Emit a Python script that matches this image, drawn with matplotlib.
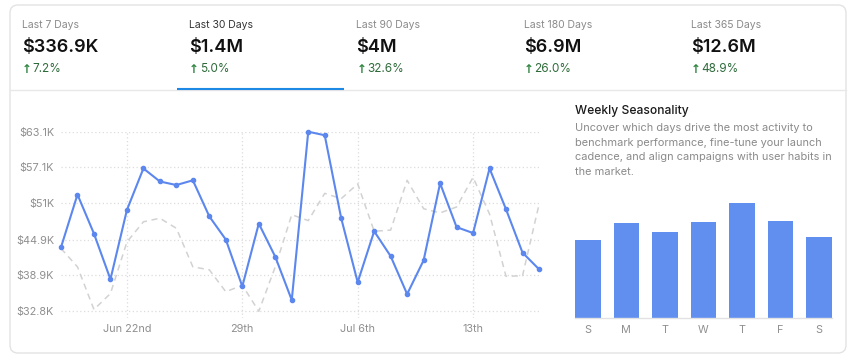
import matplotlib
matplotlib.use("Agg")
import matplotlib.pyplot as plt
from matplotlib.patches import FancyBboxPatch
import numpy as np

plt.rcParams['font.family'] = ['Inter', 'DejaVu Sans']

# ---------------- data ----------------
tab_labels = ["Last 7 Days", "Last 30 Days", "Last 90 Days", "Last 180 Days", "Last 365 Days"]
tab_values = ["$336.9K", "$1.4M", "$4M", "$6.9M", "$12.6M"]
tab_changes = ["7.2%", "5.0%", "32.6%", "26.0%", "48.9%"]
selected_tab = 1

current = [43.6, 52.5, 45.9, 38.2, 49.9, 56.9, 54.7, 54.1, 54.9, 48.8,
           44.9, 37.0, 47.6, 42.0, 34.7, 63.1, 62.5, 48.5, 37.7, 46.3,
           42.1, 35.7, 41.4, 54.4, 47.0, 46.0, 56.9, 50.0, 42.7, 39.9]
previous = [43.4, 40.3, 33.1, 35.8, 44.5, 47.9, 48.5, 46.8, 40.3, 39.8,
            36.1, 37.2, 32.8, 40.3, 49.1, 48.1, 52.7, 51.8, 54.3, 46.3,
            46.5, 54.9, 50.1, 49.4, 50.4, 55.4, 49.2, 38.7, 38.8, 50.8]
y_ticks = [32.8, 38.9, 44.9, 51.0, 57.1, 63.1]
y_tick_labels = ["$32.8K", "$38.9K", "$44.9K", "$51K", "$57.1K", "$63.1K"]
x_tick_idx = [4, 11, 18, 25]
x_tick_labels = ["Jun 22nd", "29th", "Jul 6th", "13th"]

weekdays = ["S", "M", "T", "W", "T", "F", "S"]
weekday_values = [40.6, 49.6, 44.9, 50.2, 60.0, 50.5, 42.4]

season_title = "Weekly Seasonality"
season_desc = ["Uncover which days drive the most activity to",
               "benchmark performance, fine-tune your launch",
               "cadence, and align campaigns with user habits in",
               "the market."]

# ---------------- figure ----------------
W, H = 855, 362
fig = plt.figure(figsize=(W / 100, H / 100), dpi=100)
fig.patch.set_facecolor("white")

bg = fig.add_axes([0, 0, 1, 1])
bg.set_xlim(0, W)
bg.set_ylim(H, 0)
bg.axis("off")

def fx(x0, y0, x1, y1):
    return [x0 / W, 1 - y1 / H, (x1 - x0) / W, (y1 - y0) / H]

# card
card = FancyBboxPatch((10, 5), 836, 348, boxstyle="round,pad=0,rounding_size=8",
                      facecolor="white", edgecolor="#e3e3e3", linewidth=1.0)
bg.add_patch(card)
bg.plot([10.5, 845.5], [89.5, 89.5], color="#e8e8e8", lw=1.0)

tab_w = 836 / 5
gray_lbl = "#8a8a8a"
for i in range(5):
    x0 = 10 + i * tab_w
    tx = x0 + 12
    bg.text(tx, 25, tab_labels[i], fontsize=7.5,
            color="#333333" if i == selected_tab else gray_lbl,
            va="center", ha="left")
    bg.text(tx, 47.5, tab_values[i], fontsize=13, fontweight="semibold",
            color="#111111", va="center", ha="left")
    bg.text(tx, 69.5, "\u2191", fontsize=8.5, color="#2e8540", va="center", ha="left",
            fontweight="bold", family=["DejaVu Sans"])
    bg.text(tx + 10.5, 69.5, tab_changes[i], fontsize=8.5, color="#2e6b3a",
            va="center", ha="left")
    if i == selected_tab:
        bg.plot([x0, x0 + tab_w], [88.5, 88.5], color="#1e88e5", lw=1.5,
                solid_capstyle="butt")

# ---------------- line chart ----------------
ax = fig.add_axes(fx(61, 131.7, 539, 318))
x = np.arange(len(current))
ax.set_xlim(0, len(current) - 1)
span = y_ticks[-1] - y_ticks[0]
ax.set_ylim(y_ticks[0] - span * (6.7 / 179.6), y_ticks[-1])
for sp in ax.spines.values():
    sp.set_visible(False)
grid_col = "#dcdcdc"
for yt in y_ticks:
    ax.axhline(yt, color=grid_col, lw=0.9, ls=(0, (1, 2)), zorder=0)
for xi in x_tick_idx:
    ax.axvline(xi, color=grid_col, lw=0.9, ls=(0, (1, 2)), zorder=0)
ax.plot(x, previous, color="#d2d2d2", lw=1.1, ls=(0, (4, 3)), zorder=2, clip_on=False)
ax.plot(x, current, color="#5b87ee", lw=1.5, marker="o", markersize=3,
        zorder=3, clip_on=False)
ax.set_yticks(y_ticks)
ax.set_yticklabels(y_tick_labels)
ax.set_xticks(x_tick_idx)
ax.set_xticklabels(x_tick_labels)
ax.tick_params(axis="both", length=0, labelsize=7.8, labelcolor="#8f8f8f")
ax.tick_params(axis="y", pad=5)
ax.tick_params(axis="x", pad=4)

# ---------------- seasonality ----------------
bg.text(575, 111, season_title, fontsize=8.7, fontweight="medium", color="#1a1a1a",
        va="center", ha="left")
for k, line in enumerate(season_desc):
    bg.text(575, 128 + k * 14.7, line, fontsize=7.9, color="#8a8a8a",
            va="center", ha="left")

bx = fig.add_axes(fx(575, 203, 831.7, 318.3))
bx.bar(np.arange(len(weekday_values)), weekday_values, width=0.667,
       color="#608ff0", zorder=2)
bx.set_xlim(-0.3335, len(weekday_values) - 1 + 0.3335)
bx.set_ylim(0, max(weekday_values))
for sp in ["top", "right", "left"]:
    bx.spines[sp].set_visible(False)
bx.spines["bottom"].set_color("#e2e2e2")
bx.spines["bottom"].set_linewidth(1.0)
bx.set_yticks([])
bx.set_xticks(np.arange(len(weekdays)))
bx.set_xticklabels(weekdays)
bx.tick_params(axis="x", length=0, labelsize=7.8, labelcolor="#8f8f8f", pad=5)

fig.savefig("out.png", dpi=100, facecolor="white")
